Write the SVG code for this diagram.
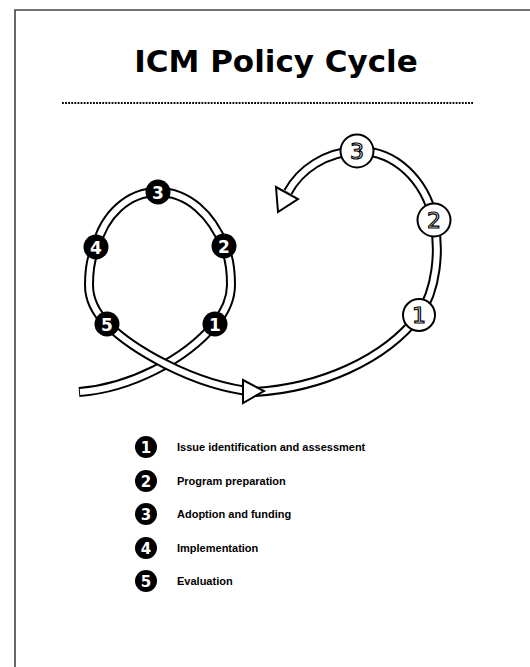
<svg xmlns="http://www.w3.org/2000/svg" width="530" height="667" viewBox="0 0 530 667">
<style>
.tb{fill:none;stroke:#000;stroke-width:10;stroke-linejoin:round}
.tw{fill:none;stroke:#fff;stroke-width:6;stroke-linejoin:round}
.bc{fill:#000}
.bd{fill:#fff;font-family:"DejaVu Sans","Liberation Sans",sans-serif;font-weight:bold;text-anchor:middle}
.wc{fill:#fff;stroke:#000;stroke-width:2}
.wd{fill:#fff;stroke:#000;stroke-width:1.2;font-family:"DejaVu Sans","Liberation Sans",sans-serif;font-size:22px;text-anchor:middle}
.arr{fill:#fff;stroke:#000;stroke-width:2;stroke-linejoin:miter}
.lg{fill:#000;font-family:"Liberation Sans",Arial,sans-serif;font-weight:bold;font-size:11px}
</style>
<rect width="530" height="667" fill="#fff"/>
<path d="M15,667 V10 H530" fill="none" stroke="#444" stroke-width="1.6"/>
<text x="276" y="72" font-family="DejaVu Sans,Liberation Sans,sans-serif" font-weight="bold" font-size="31" text-anchor="middle" fill="#000">ICM Policy Cycle</text>
<line x1="62" y1="103" x2="474" y2="103" stroke="#000" stroke-width="1.8" stroke-dasharray="1.8 1.3"/>
<g id="connectors">
<path class="tb" d="M79,392 C130,388 185,360 215,324 C225,312 231,300 231,285 C231,268 229,256 224,246 C212,215 188,192 158,192 C128,192 104,215 96,247 C91,257 89,270 89,285 C89,300 95,312 107,324"/>
<path class="tw" d="M80,392 C130,388 185,360 215,324 C225,312 231,300 231,285 C231,268 229,256 224,246 C212,215 188,192 158,192 C128,192 104,215 96,247 C91,257 89,270 89,285 C89,300 95,312 107,324"/>
<path class="tb" d="M107,324 C130,347 190,385 255,392 C320,388 385,360 419,315 C437,290 440,250 434,220 C425,180 395,150 357,151 C325,152 300,170 288,192"/>
<path class="tw" d="M107,324 C130,347 190,385 255,392 C320,388 385,360 419,315 C437,290 440,250 434,220 C425,180 395,150 357,151 C325,152 300,170 288,192"/>
<polygon class="arr" points="243,380 243,403 264,391"/>
<polygon class="arr" points="276,187 298,199 278,212"/>
</g>
<g id="loop-1"><circle class="bc" cx="215" cy="324" r="12.5"/><text class="bd" x="215" y="330.5" font-size="17">1</text></g>
<g id="loop-2"><circle class="bc" cx="224" cy="246" r="12.5"/><text class="bd" x="224" y="252.5" font-size="17">2</text></g>
<g id="loop-3"><circle class="bc" cx="158" cy="192" r="12.5"/><text class="bd" x="158" y="198.5" font-size="17">3</text></g>
<g id="loop-4"><circle class="bc" cx="96" cy="247" r="12.5"/><text class="bd" x="96" y="253.5" font-size="17">4</text></g>
<g id="loop-5"><circle class="bc" cx="107" cy="324" r="12.5"/><text class="bd" x="107" y="330.5" font-size="17">5</text></g>
<g id="big-1"><circle class="wc" cx="419" cy="315" r="16"/><text class="wd" x="419" y="323">1</text></g>
<g id="big-2"><circle class="wc" cx="434" cy="220" r="16.5"/><text class="wd" x="434" y="228">2</text></g>
<g id="big-3"><circle class="wc" cx="357" cy="151" r="16.5"/><text class="wd" x="357" y="159">3</text></g>
<g id="legend-1"><circle class="bc" cx="146" cy="447" r="11"/><text class="bd" x="146" y="452.5" font-size="15">1</text><text class="lg" x="177" y="451">Issue identification and assessment</text></g>
<g id="legend-2"><circle class="bc" cx="146" cy="481" r="11"/><text class="bd" x="146" y="486.5" font-size="15">2</text><text class="lg" x="177" y="485">Program preparation</text></g>
<g id="legend-3"><circle class="bc" cx="146" cy="514" r="11"/><text class="bd" x="146" y="519.5" font-size="15">3</text><text class="lg" x="177" y="518">Adoption and funding</text></g>
<g id="legend-4"><circle class="bc" cx="146" cy="548" r="11"/><text class="bd" x="146" y="553.5" font-size="15">4</text><text class="lg" x="177" y="552">Implementation</text></g>
<g id="legend-5"><circle class="bc" cx="146" cy="581" r="11"/><text class="bd" x="146" y="586.5" font-size="15">5</text><text class="lg" x="177" y="585">Evaluation</text></g>
</svg>
